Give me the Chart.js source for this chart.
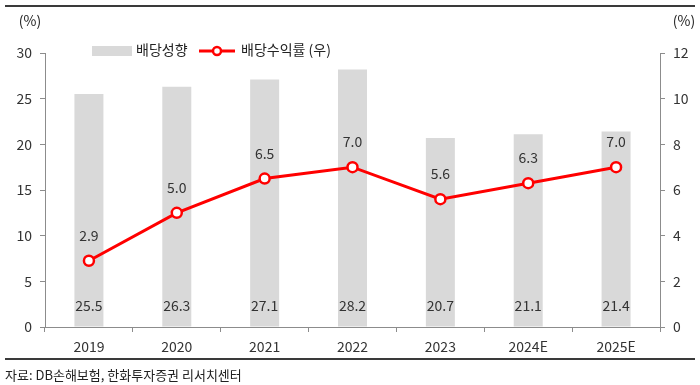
<!DOCTYPE html>
<html>
<head>
<meta charset="utf-8">
<script src="https://cdn.jsdelivr.net/npm/chart.js@4"></script>
<style>
  body { margin: 0; background: #fff; }
  #wrap { position: relative; width: 700px; height: 385px; }
</style>
</head>
<body>
<div id="wrap"><canvas id="grafico" width="700" height="385"></canvas></div>
<script>
const anos = ['2019', '2020', '2021', '2022', '2023', '2024E', '2025E'];
const payout = [25.5, 26.3, 27.1, 28.2, 20.7, 21.1, 21.4];
const yieldPct = [2.9, 5.0, 6.5, 7.0, 5.6, 6.3, 7.0];
const leftTicks = [0, 5, 10, 15, 20, 25, 30];
const rightTicks = [0, 2, 4, 6, 8, 10, 12];

const FONT = "'Noto Sans CJK KR', 'Noto Sans', sans-serif";
const axisGray = '#8c8c8c';

const extras = {
  id: 'extras',
  afterDraw(chart) {
    const c = chart.ctx;
    c.save();
    // frame lines
    c.strokeStyle = '#3a3a3a';
    c.lineWidth = 2;
    c.beginPath(); c.moveTo(5, 6); c.lineTo(695, 6); c.stroke();
    c.beginPath(); c.moveTo(5, 359); c.lineTo(695, 359); c.stroke();

    c.fillStyle = '#222';
    c.font = '13px ' + FONT;
    c.textBaseline = 'middle';
    c.textAlign = 'left';
    c.fillText('자료: DB손해보험, 한화투자증권 리서치센터', 5, 375);

    // axis units
    c.font = '14px ' + FONT;
    c.textAlign = 'center';
    c.fillText('(%)', 30, 21);
    c.fillText('(%)', 684, 21);

    // legend
    c.fillStyle = '#d9d9d9';
    c.fillRect(92, 46, 40, 10);
    c.fillStyle = '#222';
    c.textAlign = 'left';
    c.fillText('배당성향', 136, 50);
    c.strokeStyle = '#ff0000';
    c.lineWidth = 3;
    c.beginPath(); c.moveTo(199, 51); c.lineTo(235, 51); c.stroke();
    c.fillStyle = '#fff';
    c.lineWidth = 2.5;
    c.beginPath(); c.arc(217, 51, 4, 0, Math.PI * 2); c.fill(); c.stroke();
    c.fillStyle = '#222';
    c.fillText('배당수익률 (우)', 241, 50);

    // value labels
    c.font = '14px ' + FONT;
    c.fillStyle = '#333';
    c.textAlign = 'center';
    const barMeta = chart.getDatasetMeta(0);
    const yZero = chart.scales.y.getPixelForValue(0);
    barMeta.data.forEach((b, i) => {
      c.fillText(payout[i].toFixed(1), b.x, yZero - 21);
    });
    const lineMeta = chart.getDatasetMeta(1);
    lineMeta.data.forEach((p, i) => {
      c.fillText(yieldPct[i].toFixed(1), p.x, p.y - 25);
    });
    c.restore();
  }
};

new Chart(document.getElementById('grafico').getContext('2d'), {
  type: 'bar',
  data: {
    labels: anos,
    datasets: [
      {
        type: 'bar',
        label: '배당성향',
        data: payout,
        backgroundColor: '#d9d9d9',
        categoryPercentage: 1,
        barPercentage: 0.33,
        yAxisID: 'y',
        order: 2
      },
      {
        type: 'line',
        label: '배당수익률 (우)',
        data: yieldPct,
        borderColor: '#ff0000',
        borderWidth: 3,
        pointRadius: 5,
        pointBorderWidth: 2.5,
        pointBackgroundColor: '#ffffff',
        pointBorderColor: '#ff0000',
        tension: 0,
        yAxisID: 'y1',
        order: 1
      }
    ]
  },
  options: {
    responsive: false,
    animation: false,
    layout: { padding: { top: 53, left: 0, right: 0, bottom: 0 } },
    plugins: { legend: { display: false }, tooltip: { enabled: false } },
    scales: {
      x: {
        offset: true,
        grid: { offset: true, drawOnChartArea: false, drawTicks: true, tickLength: 5, color: axisGray },
        border: { display: true, color: axisGray },
        ticks: { color: '#333', font: { family: FONT, size: 14 }, padding: 6 },
        afterFit(s) { s.height = 58; }
      },
      y: {
        position: 'left',
        min: 0, max: 30,
        afterBuildTicks(s) { s.ticks = leftTicks.map(v => ({ value: v })); },
        grid: { drawOnChartArea: false, drawTicks: true, tickLength: 5, color: axisGray },
        border: { display: true, color: axisGray },
        ticks: { color: '#333', font: { family: FONT, size: 14 }, padding: 8 },
        afterFit(s) { s.width = 45; }
      },
      y1: {
        position: 'right',
        min: 0, max: 12,
        afterBuildTicks(s) { s.ticks = rightTicks.map(v => ({ value: v })); },
        grid: { drawOnChartArea: false, drawTicks: true, tickLength: 5, color: axisGray },
        border: { display: true, color: axisGray },
        ticks: { color: '#333', font: { family: FONT, size: 14 }, padding: 8 },
        afterFit(s) { s.width = 40; }
      }
    }
  },
  plugins: [extras]
});
</script>
</body>
</html>
